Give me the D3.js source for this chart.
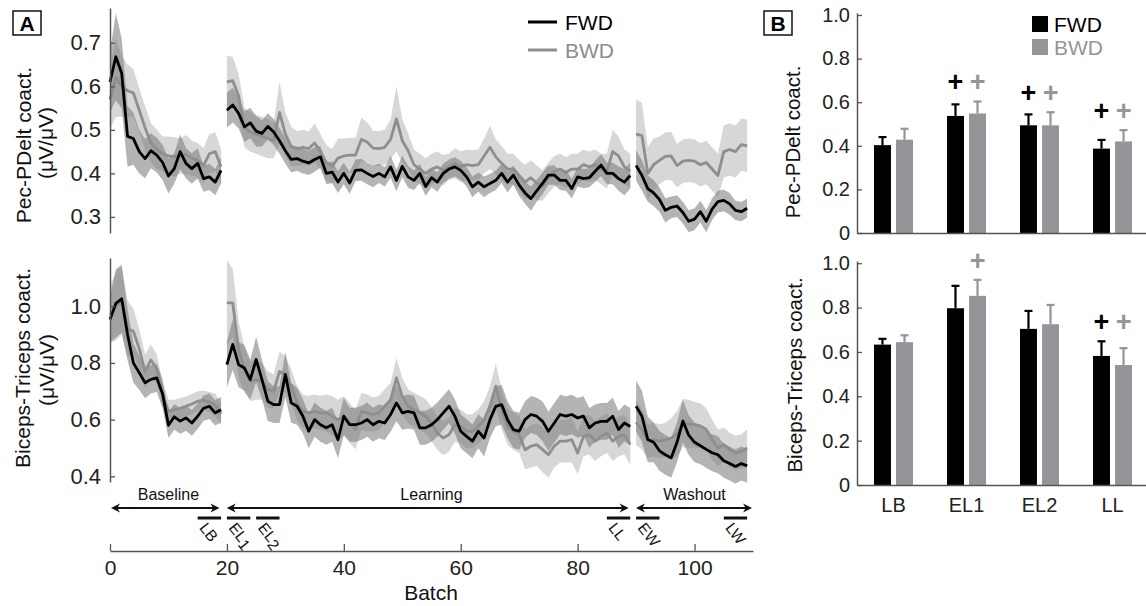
<!DOCTYPE html>
<html><head><meta charset="utf-8">
<script src="https://cdn.jsdelivr.net/npm/d3@7"></script>
<style>body{margin:0;background:#fff;} svg{display:block;font-family:"Liberation Sans",Arial,sans-serif;}</style>
</head><body><svg id="c" width="1146" height="606"></svg>
<script>
// ---------- Panel A data (batch 0..109) ----------
const batches = d3.range(0, 110);
const phaseNames = ["Baseline", "Learning", "Washout"];
const phaseFirst = [0, 20, 90];
const phaseLast = [19, 89, 109];
const segNames = ["LB", "EL1", "EL2", "LL", "EW", "LW"];
const segFrom = [15, 20, 25, 85, 90, 105];
const segTo = [19, 24, 29, 89, 94, 109];
const batchTicks = [0, 20, 40, 60, 80, 100];
const pecTicks = [0.3, 0.4, 0.5, 0.6, 0.7];
const bicTicks = [0.4, 0.6, 0.8, 1.0];

const fwdPec = [
0.610,0.668,0.630,0.485,0.480,0.450,0.434,0.452,0.442,0.425,
0.394,0.411,0.450,0.423,0.411,0.423,0.388,0.392,0.380,0.407,
0.545,0.557,0.538,0.507,0.516,0.497,0.492,0.508,0.495,0.475,
0.452,0.432,0.434,0.428,0.424,0.432,0.438,0.400,0.403,0.380,
0.400,0.378,0.407,0.408,0.400,0.393,0.400,0.392,0.415,0.384,
0.416,0.392,0.384,0.400,0.370,0.390,0.380,0.400,0.410,0.415,
0.407,0.392,0.369,0.380,0.369,0.377,0.384,0.400,0.380,0.396,
0.373,0.355,0.342,0.360,0.377,0.396,0.396,0.384,0.384,0.365,
0.392,0.388,0.390,0.405,0.419,0.400,0.400,0.388,0.380,0.395,
0.418,0.395,0.365,0.355,0.340,0.315,0.322,0.325,0.310,0.290,
0.295,0.312,0.290,0.318,0.335,0.338,0.330,0.315,0.312,0.320];
const fwdPecErr = [
0.070,0.100,0.080,0.070,0.060,0.050,0.045,0.040,0.040,0.040,
0.040,0.035,0.040,0.035,0.035,0.035,0.030,0.030,0.030,0.030,
0.040,0.040,0.035,0.035,0.035,0.035,0.030,0.030,0.030,0.030,
0.030,0.030,0.028,0.028,0.028,0.028,0.025,0.025,0.025,0.025,
0.025,0.025,0.025,0.025,0.025,0.025,0.022,0.022,0.025,0.025,
0.025,0.025,0.022,0.022,0.022,0.022,0.022,0.022,0.022,0.022,
0.022,0.022,0.024,0.022,0.024,0.022,0.022,0.022,0.024,0.022,
0.025,0.025,0.028,0.025,0.025,0.022,0.022,0.022,0.024,0.022,
0.022,0.022,0.022,0.025,0.025,0.025,0.025,0.028,0.030,0.030,
0.035,0.035,0.030,0.030,0.028,0.028,0.025,0.025,0.025,0.025,
0.025,0.025,0.025,0.025,0.025,0.025,0.025,0.022,0.022,0.022];
const bwdPec = [
0.570,0.620,0.600,0.590,0.585,0.545,0.505,0.470,0.455,0.445,
0.440,0.438,0.440,0.443,0.435,0.430,0.418,0.445,0.450,0.415,
0.610,0.613,0.578,0.505,0.495,0.490,0.485,0.480,0.475,0.540,
0.490,0.462,0.457,0.460,0.457,0.470,0.450,0.425,0.416,0.435,
0.440,0.442,0.442,0.478,0.472,0.458,0.457,0.460,0.478,0.525,
0.475,0.452,0.420,0.410,0.400,0.410,0.415,0.407,0.415,0.423,
0.415,0.420,0.418,0.420,0.440,0.460,0.438,0.423,0.410,0.410,
0.395,0.380,0.390,0.378,0.372,0.390,0.405,0.410,0.402,0.410,
0.410,0.420,0.415,0.420,0.410,0.405,0.450,0.440,0.415,0.405,
0.490,0.487,0.400,0.420,0.430,0.439,0.440,0.418,0.428,0.430,
0.428,0.420,0.425,0.410,0.395,0.450,0.455,0.450,0.466,0.463];
const bwdPecErr = [
0.070,0.090,0.070,0.060,0.055,0.050,0.050,0.045,0.045,0.040,
0.045,0.045,0.040,0.045,0.040,0.040,0.040,0.045,0.045,0.040,
0.060,0.055,0.050,0.045,0.045,0.045,0.045,0.045,0.040,0.070,
0.050,0.045,0.040,0.040,0.040,0.045,0.040,0.040,0.040,0.045,
0.040,0.040,0.040,0.050,0.045,0.040,0.040,0.040,0.045,0.075,
0.050,0.040,0.035,0.035,0.035,0.035,0.035,0.035,0.030,0.035,
0.035,0.035,0.035,0.035,0.040,0.050,0.040,0.040,0.035,0.035,
0.035,0.040,0.040,0.040,0.035,0.035,0.035,0.035,0.035,0.035,
0.035,0.035,0.035,0.035,0.035,0.040,0.050,0.045,0.040,0.040,
0.080,0.075,0.060,0.060,0.055,0.055,0.055,0.050,0.050,0.050,
0.050,0.050,0.050,0.050,0.050,0.060,0.060,0.060,0.060,0.060];
const fwdBic = [
0.953,1.010,1.026,0.900,0.800,0.765,0.730,0.742,0.747,0.690,
0.580,0.610,0.595,0.606,0.588,0.612,0.640,0.647,0.624,0.635,
0.794,0.865,0.794,0.782,0.741,0.812,0.741,0.665,0.653,0.653,
0.759,0.659,0.647,0.612,0.559,0.600,0.582,0.571,0.582,0.529,
0.612,0.582,0.582,0.588,0.600,0.582,0.594,0.588,0.618,0.659,
0.624,0.629,0.624,0.571,0.571,0.582,0.600,0.624,0.647,0.612,
0.559,0.541,0.524,0.559,0.535,0.600,0.647,0.653,0.600,0.565,
0.559,0.600,0.618,0.612,0.594,0.559,0.588,0.618,0.612,0.618,
0.606,0.612,0.571,0.588,0.594,0.594,0.612,0.565,0.588,0.576,
0.647,0.612,0.530,0.520,0.490,0.476,0.465,0.520,0.595,0.545,
0.520,0.508,0.495,0.483,0.476,0.455,0.445,0.435,0.445,0.437];
const fwdBicErr = [
0.080,0.120,0.120,0.090,0.070,0.060,0.055,0.050,0.050,0.050,
0.045,0.045,0.045,0.045,0.045,0.045,0.045,0.045,0.045,0.045,
0.080,0.090,0.080,0.080,0.070,0.080,0.070,0.070,0.065,0.065,
0.080,0.070,0.065,0.060,0.060,0.060,0.060,0.060,0.060,0.065,
0.065,0.060,0.060,0.060,0.060,0.060,0.060,0.060,0.060,0.065,
0.060,0.060,0.060,0.060,0.060,0.060,0.060,0.060,0.060,0.060,
0.060,0.060,0.060,0.060,0.065,0.065,0.070,0.070,0.065,0.065,
0.065,0.065,0.065,0.065,0.070,0.070,0.070,0.070,0.070,0.070,
0.070,0.070,0.070,0.065,0.065,0.065,0.065,0.065,0.065,0.065,
0.090,0.090,0.080,0.070,0.070,0.070,0.070,0.070,0.075,0.070,
0.070,0.065,0.065,0.065,0.065,0.060,0.060,0.060,0.060,0.060];
const bwdBic = [
0.970,1.000,1.020,0.920,0.912,0.850,0.770,0.810,0.780,0.690,
0.630,0.635,0.640,0.647,0.655,0.665,0.668,0.662,0.652,0.620,
1.012,1.012,0.847,0.776,0.735,0.741,0.735,0.706,0.700,0.770,
0.759,0.718,0.659,0.629,0.624,0.629,0.624,0.624,0.612,0.600,
0.612,0.588,0.565,0.629,0.624,0.618,0.624,0.647,0.670,0.747,
0.682,0.647,0.635,0.624,0.612,0.585,0.553,0.535,0.547,0.582,
0.576,0.559,0.559,0.576,0.600,0.647,0.718,0.635,0.576,0.559,
0.547,0.494,0.506,0.512,0.494,0.476,0.506,0.524,0.524,0.529,
0.482,0.541,0.547,0.524,0.541,0.553,0.524,0.541,0.547,0.512,
0.590,0.565,0.524,0.529,0.524,0.529,0.535,0.550,0.588,0.585,
0.582,0.578,0.565,0.530,0.500,0.512,0.494,0.483,0.488,0.500];
const bwdBicErr = [
0.100,0.120,0.120,0.100,0.080,0.070,0.060,0.055,0.050,0.045,
0.040,0.035,0.035,0.035,0.035,0.035,0.035,0.035,0.040,0.040,
0.150,0.120,0.100,0.080,0.070,0.070,0.065,0.065,0.060,0.070,
0.065,0.060,0.060,0.060,0.060,0.060,0.060,0.065,0.070,0.070,
0.070,0.070,0.070,0.065,0.065,0.060,0.060,0.060,0.060,0.070,
0.065,0.060,0.060,0.060,0.060,0.060,0.060,0.060,0.060,0.060,
0.060,0.060,0.060,0.060,0.065,0.070,0.080,0.070,0.065,0.065,
0.065,0.070,0.075,0.075,0.080,0.080,0.075,0.075,0.075,0.080,
0.075,0.070,0.070,0.070,0.070,0.070,0.070,0.070,0.070,0.070,
0.080,0.070,0.060,0.060,0.060,0.060,0.070,0.080,0.085,0.085,
0.080,0.080,0.075,0.070,0.065,0.060,0.060,0.060,0.060,0.065];

// ---------- Panel B data ----------
const categories = ["LB", "EL1", "EL2", "LL"];
const groups = ["FWD", "BWD"];
const barTicks = [0, 0.2, 0.4, 0.6, 0.8, 1.0];
const pecFwd = [0.403, 0.537, 0.494, 0.387];
const pecFwdErr = [0.037, 0.053, 0.050, 0.040];
const pecBwd = [0.428, 0.548, 0.494, 0.420];
const pecBwdErr = [0.050, 0.055, 0.060, 0.052];
const bicFwd = [0.633, 0.797, 0.704, 0.582];
const bicFwdErr = [0.026, 0.101, 0.081, 0.066];
const bicBwd = [0.644, 0.853, 0.725, 0.541];
const bicBwdErr = [0.031, 0.072, 0.087, 0.076];
const pecSig = [[false,false],[true,true],[true,true],[true,true]];
const bicSig = [[false,false],[false,true],[false,false],[true,true]];

// ---------- drawing ----------
const svg = d3.select("#c");
const BLACK = "#000", GRAYLINE = "#8e8e8e", GRAYBAR = "#939598", AXIS = "#555";

const xA = d3.scaleLinear().domain([0, 110]).range([110, 753]);
const yTop = d3.scaleLinear().domain([0.263, 0.78]).range([233, 8]);
const yBot = d3.scaleLinear().domain([0.38, 1.17]).range([482, 258]);

function styleAxis(g, fs) {
  g.select(".domain").attr("stroke", AXIS).attr("stroke-width", 1.5);
  g.selectAll(".tick line").attr("stroke", AXIS).attr("stroke-width", 1.3);
  g.selectAll(".tick text").attr("fill", "#222").style("font-size", fs + "px")
    .style("font-family", '"Liberation Sans",Arial,sans-serif');
}

function drawSeriesPanel(y, fwd, fwdE, bwd, bwdE, ticks) {
  const g = svg.append("g");
  const area = d3.area().x(d => xA(d.b)).y0(d => y(d.m - d.e)).y1(d => y(d.m + d.e));
  const line = d3.line().x(d => xA(d.b)).y(d => y(d.m));
  const parts = phaseFirst.map((f, i) => batches.filter(b => b >= f && b <= phaseLast[i]));
  const mk = (m, e, idx) => idx.map(b => ({ b: b, m: m[b], e: e[b] }));
  parts.forEach(idx => {
    g.append("path").attr("d", area(mk(bwd, bwdE, idx))).attr("fill", "#b0b0b0").attr("fill-opacity", 0.5);
    g.append("path").attr("d", area(mk(fwd, fwdE, idx))).attr("fill", "#777").attr("fill-opacity", 0.55);
  });
  parts.forEach(idx => {
    g.append("path").attr("d", line(mk(bwd, bwdE, idx))).attr("fill", "none")
      .attr("stroke", GRAYLINE).attr("stroke-width", 2.8).attr("stroke-linejoin", "round");
  });
  parts.forEach(idx => {
    g.append("path").attr("d", line(mk(fwd, fwdE, idx))).attr("fill", "none")
      .attr("stroke", BLACK).attr("stroke-width", 2.8).attr("stroke-linejoin", "round");
  });
  const ax = svg.append("g").attr("transform", "translate(110,0)")
    .call(d3.axisLeft(y).tickValues(ticks).tickFormat(d3.format(".1f"))
      .tickSizeInner(-5).tickSizeOuter(0).tickPadding(9));
  styleAxis(ax, 22);
}

drawSeriesPanel(yTop, fwdPec, fwdPecErr, bwdPec, bwdPecErr, pecTicks);
drawSeriesPanel(yBot, fwdBic, fwdBicErr, bwdBic, bwdBicErr, bicTicks);

// y titles panel A
function yTitle(x, y, txt, fs) {
  svg.append("text").attr("transform", `translate(${x},${y}) rotate(-90)`)
    .attr("text-anchor", "middle").attr("dy", "0.35em").style("font-size", fs + "px")
    .attr("fill", "#111").text(txt);
}
yTitle(24, 145, "Pec-PDelt coact.", 21);
yTitle(46, 143, "(μV/μV)", 21);
yTitle(23, 368, "Biceps-Triceps coact.", 21);
yTitle(47, 370, "(μV/μV)", 21);

// legend A
[["FWD", BLACK, BLACK, 22], ["BWD", GRAYLINE, "#8c8c8c", 50]].forEach(([t, c, tc, yy]) => {
  svg.append("line").attr("x1", 528).attr("x2", 557).attr("y1", yy).attr("y2", yy)
    .attr("stroke", c).attr("stroke-width", 3);
  svg.append("text").attr("x", 565).attr("y", yy).attr("dy", "0.36em")
    .style("font-size", "21px").attr("fill", tc).text(t);
});

// batch axis
const xAx = svg.append("g").attr("transform", "translate(0,551)")
  .call(d3.axisBottom(xA).tickValues(batchTicks).tickSizeInner(-7).tickSizeOuter(0).tickPadding(9));
styleAxis(xAx, 21);
svg.append("text").attr("x", 431).attr("y", 600).attr("text-anchor", "middle")
  .style("font-size", "21px").attr("fill", "#111").text("Batch");

// phase arrows
const arrowY = 508;
const arrowEnds = phaseFirst.map((f, i) => [i === 0 ? 0 : f - 0.2, i === 2 ? 110 : phaseLast[i] - 0.1]);
function head(x, dir) {
  const L = 9, h = 4.5;
  return `M${x},${arrowY} L${x - dir * L},${arrowY - h} L${x - dir * L * 0.7},${arrowY} L${x - dir * L},${arrowY + h} Z`;
}
arrowEnds.forEach(([a, b], i) => {
  const x1 = xA(a) + 1, x2 = xA(b) - 1;
  svg.append("line").attr("x1", x1 + 4).attr("x2", x2 - 4).attr("y1", arrowY).attr("y2", arrowY)
    .attr("stroke", "#111").attr("stroke-width", 2);
  svg.append("path").attr("d", head(x1, -1)).attr("fill", "#111");
  svg.append("path").attr("d", head(x2, 1)).attr("fill", "#111");
  svg.append("text").attr("x", xA((phaseFirst[i] + phaseLast[i] + 1) / 2)).attr("y", 500)
    .attr("text-anchor", "middle").style("font-size", "16px").attr("fill", "#111").text(phaseNames[i]);
});

// window bars + rotated labels
segNames.forEach((n, i) => {
  svg.append("line").attr("x1", xA(segFrom[i])).attr("x2", xA(segTo[i]))
    .attr("y1", 518).attr("y2", 518).attr("stroke", "#111").attr("stroke-width", 3);
  const t = svg.append("text").attr("transform", `translate(${xA(segFrom[i]) + 1},528) rotate(52)`)
    .style("font-size", "15.5px").attr("fill", "#111");
  const m = n.match(/^([A-Z]+)(\d?)$/);
  t.append("tspan").text(m[1]);
  if (m[2]) t.append("tspan").attr("dy", 3).text(m[2]);
});

// panel label boxes
function panelLabel(x, y, t) {
  svg.append("rect").attr("x", x).attr("y", y).attr("width", 28).attr("height", 24)
    .attr("fill", "none").attr("stroke", "#111").attr("stroke-width", 1.5);
  svg.append("text").attr("x", x + 14).attr("y", y + 12).attr("dy", "0.36em").attr("text-anchor", "middle")
    .style("font-size", "21px").style("font-weight", "bold").text(t);
}
panelLabel(13, 11, "A");
panelLabel(764, 11, "B");

// ---------- Panel B ----------
const xB = d3.scaleBand().domain(categories).range([857, 1149]);
const xG = d3.scaleBand().domain(groups)
  .range([xB.bandwidth() / 2 - 19.5, xB.bandwidth() / 2 + 19.5]).paddingInner(0.23);
const yBT = d3.scaleLinear().domain([0, 1.01]).range([233, 12.8]);
const yBB = d3.scaleLinear().domain([0, 1.01]).range([485, 261]);

function drawBars(y, f, fe, b, be, sig, showLabels) {
  const g = svg.append("g");
  categories.forEach((c, i) => {
    const vals = [[f[i], fe[i], BLACK], [b[i], be[i], GRAYBAR]];
    const topMax = d3.max(vals, v => v[0] + v[1]);
    vals.forEach(([m, e, col], k) => {
      const x0 = xB(c) + xG(groups[k]);
      const cx = x0 + xG.bandwidth() / 2;
      g.append("rect").attr("x", x0).attr("y", y(m)).attr("width", xG.bandwidth())
        .attr("height", y(0) - y(m)).attr("fill", col);
      g.append("line").attr("x1", cx).attr("x2", cx).attr("y1", y(m)).attr("y2", y(m + e))
        .attr("stroke", col).attr("stroke-width", 2.2);
      g.append("line").attr("x1", cx - 4).attr("x2", cx + 4).attr("y1", y(m + e)).attr("y2", y(m + e))
        .attr("stroke", col).attr("stroke-width", 2.2);
      if (sig[i][k]) {
        g.append("text").attr("x", cx).attr("y", y(topMax) - 20).attr("dy", "0.36em")
          .attr("text-anchor", "middle").style("font-size", "27px").style("font-weight", "bold")
          .attr("fill", col).text("+");
      }
    });
  });
  const ay = svg.append("g").attr("transform", "translate(857,0)")
    .call(d3.axisLeft(y).tickValues(barTicks).tickFormat(d => d === 0 ? "0" : d3.format(".1f")(d))
      .tickSizeInner(-5).tickSizeOuter(0).tickPadding(7));
  styleAxis(ay, 20);
  const axb = svg.append("g").attr("transform", `translate(0,${y(0)})`)
    .call(d3.axisBottom(xB).tickSize(0).tickPadding(13).tickFormat(showLabels ? (d => d) : () => ""));
  styleAxis(axb, 20);
}
drawBars(yBT, pecFwd, pecFwdErr, pecBwd, pecBwdErr, pecSig, false);
drawBars(yBB, bicFwd, bicFwdErr, bicBwd, bicBwdErr, bicSig, true);

yTitle(793, 142, "Pec-PDelt coact.", 20.5);
yTitle(795, 375, "Biceps-Triceps coact.", 20.5);

// legend B
[["FWD", BLACK, BLACK, 16], ["BWD", GRAYBAR, GRAYBAR, 39]].forEach(([t, c, tc, yy]) => {
  svg.append("rect").attr("x", 1032).attr("y", yy).attr("width", 16).attr("height", 16).attr("fill", c);
  svg.append("text").attr("x", 1054).attr("y", yy + 8).attr("dy", "0.36em")
    .style("font-size", "21px").attr("fill", tc).text(t);
});
</script></body></html>
